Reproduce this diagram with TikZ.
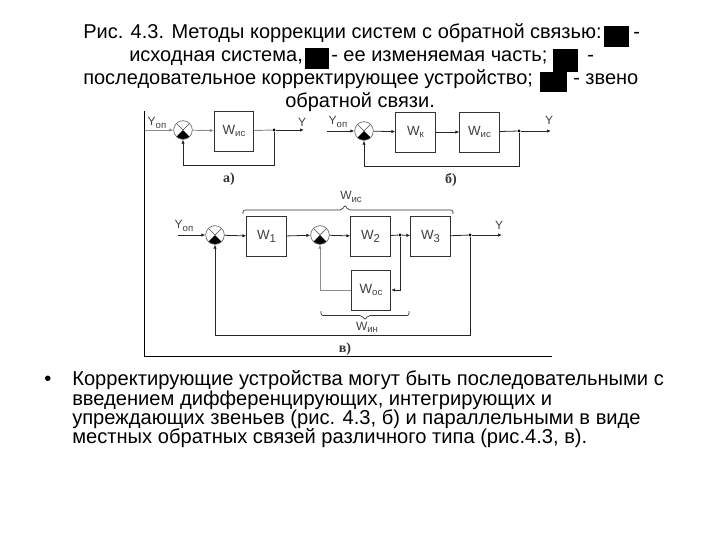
\documentclass[tikz,border=0pt]{standalone}
\usepackage{fontspec}
\setmainfont{Liberation Sans}
\newfontfamily\capfont{Liberation Serif}
\usetikzlibrary{arrows.meta}
\newcommand{\lb}[2]{#1\raisebox{-0.35ex}{\fontsize{7.2pt}{8pt}\selectfont #2}}
\tikzset{
  x=0.75pt,y=-0.75pt,
  line/.style={draw=black!85,line width=0.6pt},
  grayline/.style={draw=black!45,line width=0.7pt},
  arr/.style={-{Latex[length=3pt,width=2.6pt]}},
  blockbox/.style={draw=black!80,line width=0.7pt,minimum width=29.5pt,minimum height=30pt,inner sep=0pt,font=\fontsize{10pt}{11pt}\selectfont,fill=white,text=black!75},
  sumnode/.style={circle,draw=black!60,line width=0.5pt,minimum size=14pt,inner sep=0pt,
    path picture={
      \fill[black] (path picture bounding box.center) -- (path picture bounding box.south west) -- (path picture bounding box.south east) -- cycle;
      \draw[black!70,line width=0.5pt] (path picture bounding box.center) -- (path picture bounding box.north west);
      \draw[black!70,line width=0.5pt] (path picture bounding box.center) -- (path picture bounding box.north east);
    }},
  jdot/.style={circle,fill=black,inner sep=0pt,minimum size=2.4pt},
  lab/.style={inner sep=0pt,font=\fontsize{9pt}{10pt}\selectfont,text=black!75},
  captext/.style={inner sep=0pt,font=\capfont\fontsize{10.5pt}{11pt}\bfseries\selectfont,text=black!80},
  ttl/.style={inner sep=0pt,anchor=base west,font=\fontsize{15pt}{17pt}\selectfont},
  bod/.style={inner sep=0pt,anchor=base west,font=\fontsize{15.1pt}{17pt}\selectfont},
  bracep/.style={draw=black!80,line width=0.5pt,rounded corners=1.5pt},
}
\begin{document}
\begin{tikzpicture}
\useasboundingbox (0,0) rectangle (720,540);
% title
\node[ttl] (t1) at (83,38) {Рис. 4.3. Методы коррекции систем с обратной связью:};
\node[ttl] (t1b) at (633,38) {-};
\node[ttl] (t2) at (129,61) {исходная система,};
\node[ttl] (t2b) at (331,61) {- ее изменяемая часть;};
\node[ttl] (t2c) at (587,61) {-};
\node[ttl] (t3) at (83,84) {последовательное корректирующее устройство;};
\node[ttl] (t3b) at (573,84) {- звено};
\node[ttl] (t4) at (285,107) {обратной связи.};
\fill (604,26) rectangle (629,47);
\fill (305,48) rectangle (329,69);
\fill (553,49) rectangle (578,72);
\fill (540,72) rectangle (567,92);
% body
\node[bod] (bul) at (44,385) {•};
\node[bod] (b1) at (72,385) {Корректирующие устройства могут быть последовательными с};
\node[bod] (b2) at (72,405) {введением дифференцирующих, интегрирующих и};
\node[bod] (b3) at (72,424) {упреждающих звеньев (рис. 4.3, б) и параллельными в виде};
\node[bod] (b4) at (72,443) {местных обратных связей различного типа (рис.4.3, в).};
% frame
\coordinate (ftop) at (144.5,111);
\coordinate (fcorner) at (144.5,356.5);
\coordinate (fright) at (552,356.5);
\draw[black,line width=0.9pt] (ftop) -- (fcorner) -- (fright);
% a)
\node[sumnode] (sa) at (183,130) {};
\node[blockbox] (wa) at (234,131) {\lb{W}{ис}};
\coordinate (ain) at (145,130);
\coordinate (aout) at (304,130);
\node[jdot] (ja) at (274,130) {};
\draw[grayline,arr] (ain) -- (sa);
\draw[grayline,arr] (sa) -- (wa);
\draw[grayline] (wa) -- (ja);
\draw[line,arr] (ja) -- (aout);
\draw[line,arr] (ja) |- (183,165) -- (sa);
\node[lab] (la1) at (157,123) {\lb{Y}{оп}};
\node[lab] (la2) at (302,122) {Y};
\node[captext] (ca) at (229,179) {а)};
% b)
\node[sumnode] (sb) at (364,131) {};
\node[blockbox] (wk) at (415.5,132) {\lb{W}{к}};
\node[blockbox] (wb) at (479.5,132) {\lb{W}{ис}};
\coordinate (bin) at (327,131);
\coordinate (bout) at (551,131);
\node[jdot] (jb) at (519,131) {};
\draw[line,arr] (bin) -- (sb);
\draw[line,arr] (sb) -- (wk);
\draw[line,arr] (wk) -- (wb);
\draw[line] (wb) -- (jb);
\draw[line,arr] (jb) -- (bout);
\draw[line,arr] (jb) |- (364,166) -- (sb);
\node[lab] (lb1) at (338,122) {\lb{Y}{оп}};
\node[lab] (lb2) at (549,120) {Y};
\node[captext] (cb) at (451,180) {б)};
% c)
\node[sumnode] (s1) at (215,235) {};
\node[sumnode] (s2) at (320,235) {};
\node[blockbox] (w1) at (266.5,236.5) {\lb{W}{\fontsize{8.5pt}{9pt}\selectfont 1}};
\node[blockbox] (w2) at (370.5,236.5) {\lb{W}{\fontsize{8.5pt}{9pt}\selectfont 2}};
\node[blockbox] (w3) at (430.5,236.5) {\lb{W}{\fontsize{8.5pt}{9pt}\selectfont 3}};
\node[blockbox] (woc) at (371,290) {\lb{W}{ос}};
\coordinate (cin) at (178,235);
\coordinate (cout) at (502,235);
\node[jdot] (j2) at (400,235) {};
\node[jdot] (j3) at (470,235) {};
\draw[line,arr] (cin) -- (s1);
\draw[line,arr] (s1) -- (w1);
\draw[line,arr] (w1) -- (s2);
\draw[line,arr] (s2) -- (w2);
\draw[line] (w2) -- (j2);
\draw[line,arr] (j2) -- (w3);
\draw[line] (w3) -- (j3);
\draw[line,arr] (j3) -- (cout);
\draw[line,arr] (j2) |- (woc.east);
\draw[grayline,arr] (woc.west) -| (s2);
\draw[line,arr] (j3) |- (215,335) -- (s1);
\node[lab] (lc1) at (184,226) {\lb{Y}{оп}};
\node[lab] (lc2) at (499,225) {Y};
\node[captext] (cc) at (345,349) {в)};
% braces
\coordinate (bt1) at (243,214);
\coordinate (bt2) at (453,214);
\coordinate (bp1) at (345,205);
\draw[bracep] (bt1) -- (243,210) -- (342,210) -- (bp1) -- (348,210) -- (453,210) -- (bt2);
\node[lab] (lw1) at (351,197) {\lb{W}{ис}};
\coordinate (bb1) at (321,311);
\coordinate (bb2) at (409,311);
\coordinate (bp2) at (365,320);
\draw[bracep] (bb1) -- (321,315.5) -- (362,315.5) -- (bp2) -- (368,315.5) -- (409,315.5) -- (bb2);
\node[lab] (lw2) at (367,327) {\lb{W}{ин}};
\end{tikzpicture}
\end{document}
